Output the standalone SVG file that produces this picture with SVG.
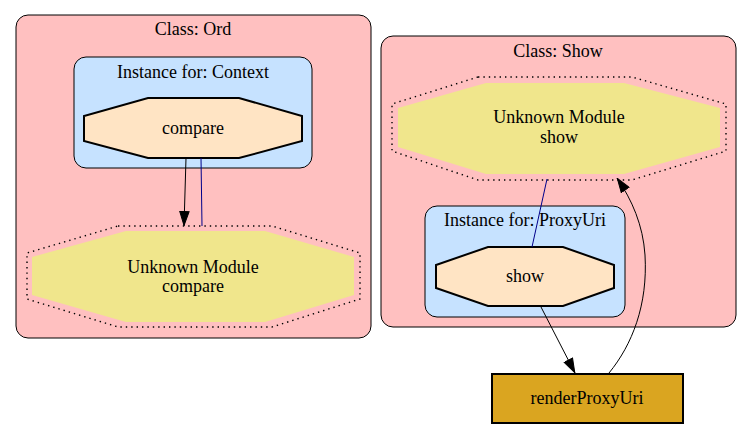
<svg xmlns="http://www.w3.org/2000/svg" width="752" height="428" viewBox="0 0 752 428">
<defs>
<style>
.cls{fill:#ffc0c0;stroke:#000;stroke-width:1}
.inst{fill:#c6e2ff;stroke:#000;stroke-width:1}
.oct{fill:#ffe4c4;stroke:#000;stroke-width:2}
.unk{fill:#f0e68c;stroke:none}
.dot{fill:none;stroke:#000;stroke-width:1.4;stroke-dasharray:1.4,4}
.e{fill:none;stroke:#000;stroke-width:1}
.eb{fill:none;stroke:#00008b;stroke-width:1}
</style>
<marker id="ah" viewBox="0 0 15 11" refX="15" refY="5.5" markerWidth="15" markerHeight="11" markerUnits="userSpaceOnUse" orient="auto">
<path d="M0.5,0.8 L14.5,5.5 L0.5,10.2 Z" fill="#000" stroke="#000"/>
</marker>
</defs>
<rect width="752" height="428" fill="#fff"/>
<g id="cluster_ord">
<rect class="cls" x="16" y="15" width="355" height="323" rx="12"/>
<text font-family="Liberation Serif" font-size="18" text-anchor="middle" x="193" y="35">Class: Ord</text>
</g>
<g id="cluster_context">
<rect class="inst" x="74" y="57" width="238" height="111" rx="12"/>
<text font-family="Liberation Serif" font-size="18" text-anchor="middle" x="193" y="78">Instance for: Context</text>
</g>
<g id="cluster_show">
<rect class="cls" x="381" y="36" width="355" height="291" rx="12"/>
<text font-family="Liberation Serif" font-size="18" text-anchor="middle" x="558" y="57">Class: Show</text>
</g>
<g id="cluster_proxyuri">
<rect class="inst" x="425" y="206" width="200" height="111" rx="12"/>
<text font-family="Liberation Serif" font-size="18" text-anchor="middle" x="525" y="226">Instance for: ProxyUri</text>
</g>
<g id="node_compare">
<polygon class="oct" points="148,98 239,98 302,116 302,141 239,158 148,158 84,141 84,116"/>
<text font-family="Liberation Serif" font-size="18" text-anchor="middle" x="193" y="134">compare</text>
</g>
<g id="node_unknown_compare">
<polygon class="unk" points="126,231 265,231 354,257 354,295 265,322 126,322 32,295 32,257"/>
<polygon class="dot" points="118,226 272,226 360,253 360,299 272,327 118,327 27,299 27,253"/>
<text font-family="Liberation Serif" font-size="18" text-anchor="middle" x="193" y="273">Unknown Module</text>
<text font-family="Liberation Serif" font-size="18" text-anchor="middle" x="193" y="292">compare</text>
</g>
<g id="node_unknown_show">
<polygon class="unk" points="486,83 624,83 720,108 720,147 624,174 486,174 398,147 398,108"/>
<polygon class="dot" points="478,77 632,77 726,104 726,151 632,180 478,180 392,151 392,104"/>
<text font-family="Liberation Serif" font-size="18" text-anchor="middle" x="559" y="123">Unknown Module</text>
<text font-family="Liberation Serif" font-size="18" text-anchor="middle" x="559" y="143">show</text>
</g>
<g id="node_show">
<polygon class="oct" points="488,247 563,247 614,265 614,288 563,306 488,306 436,288 436,265"/>
<text font-family="Liberation Serif" font-size="18" text-anchor="middle" x="525" y="282">show</text>
</g>
<g id="node_renderProxyUri">
<rect x="492" y="374" width="191" height="49" fill="#daa520" stroke="#000" stroke-width="2"/>
<text font-family="Liberation Serif" font-size="18" text-anchor="middle" x="587" y="404">renderProxyUri</text>
</g>
<g id="edges">
<path class="e" d="M186,158 L184,226" marker-end="url(#ah)"/>
<path class="eb" d="M201,158 L202,226"/>
<path class="eb" d="M547,179 L532,247"/>
<path class="e" d="M541,307 L575,373" marker-end="url(#ah)"/>
<path class="e" d="M609,373 C632,345 648,305 645,255 C643,225 632,200 617,178" marker-end="url(#ah)"/>
</g>
</svg>
